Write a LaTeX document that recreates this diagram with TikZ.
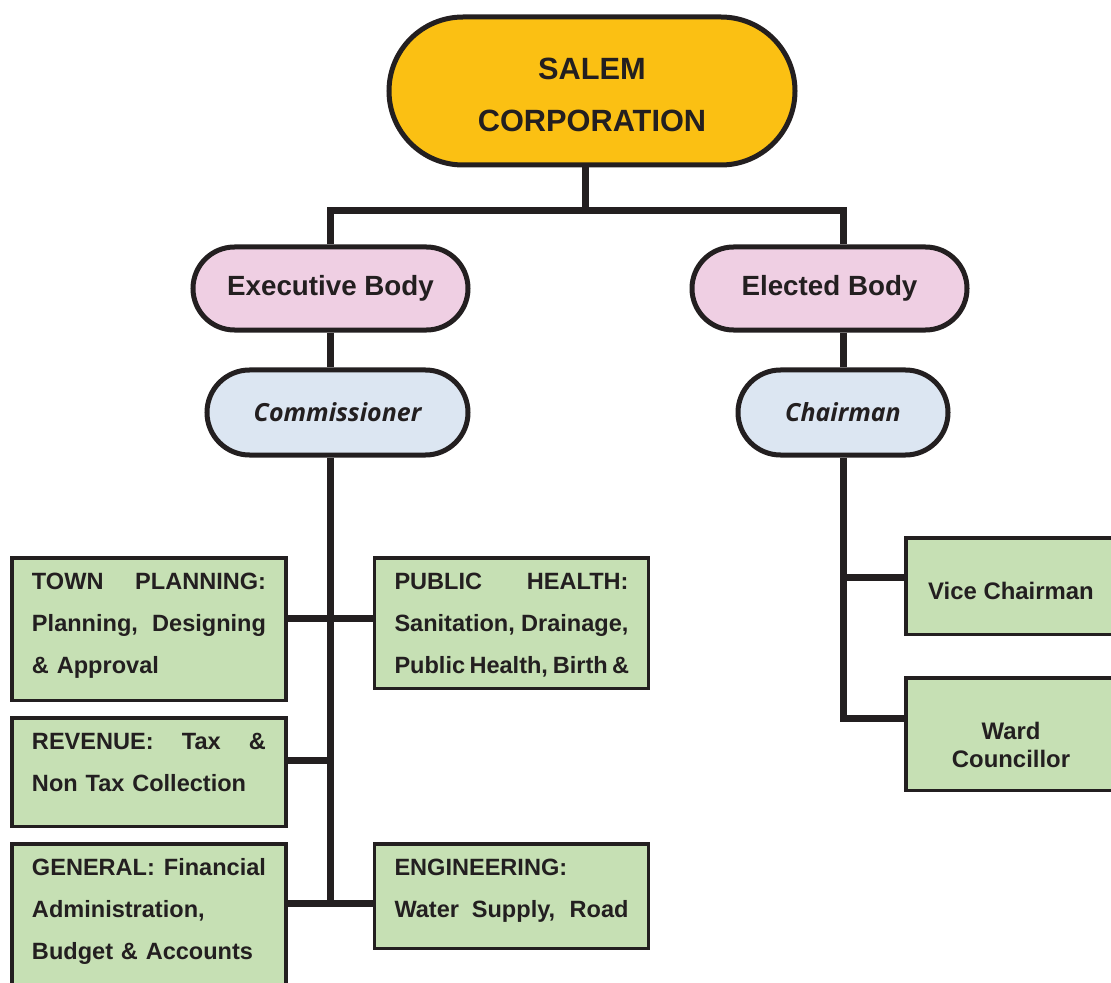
\documentclass[tikz,border=0pt]{standalone}
\usepackage{fontspec}
\setmainfont{Liberation Sans}
\newfontfamily\opensans{Open Sans}
\usetikzlibrary{calc,positioning,shapes.misc}
\definecolor{ink}{HTML}{231F20}
\definecolor{corpfill}{HTML}{FBC013}
\definecolor{bodyfill}{HTML}{EFCFE3}
\definecolor{headfill}{HTML}{DCE6F2}
\definecolor{deptfill}{HTML}{C6E0B4}
\newlength\deptw
\setlength\deptw{46.8mm}
% one fully spread line of a department box
\newcommand\jline[1]{{\spaceskip=0pt\xspaceskip=0pt\makebox[\deptw][s]{#1}}}
\tikzset{
  link/.style={draw=ink,line width=1.4mm},
  pill/.style={rounded rectangle,draw=ink,line width=1mm,align=center,text=ink,inner sep=0pt},
  corpcard/.style={pill,fill=corpfill,minimum width=81.2mm,minimum height=29.6mm,font=\fontsize{17.5}{29.5}\selectfont\bfseries},
  bodycard/.style={pill,fill=bodyfill,minimum width=55mm,minimum height=16.6mm,font=\fontsize{15.8}{18}\selectfont\bfseries},
  headcard/.style={pill,fill=headfill,minimum height=17mm,font=\opensans\fontsize{14.2}{16}\selectfont\bfseries\itshape},
  deptcard/.style={draw=ink,fill=deptfill,line width=0.7mm,text=ink,align=left,text width=\deptw,inner xsep=4mm,inner ysep=3mm,
    anchor=north,text height=3.25mm,font=\fontsize{13.4}{23.9}\selectfont\bfseries},
  wardcard/.style={draw=ink,fill=deptfill,line width=0.7mm,text=ink,align=center,minimum width=42mm,inner sep=0pt,font=\fontsize{13.6}{16}\selectfont\bfseries}
}
\begin{document}
\begin{tikzpicture}[x=0.2mm,y=-0.2mm]
  \useasboundingbox (0,0) rectangle (1111,983);
  \clip (0,0) rectangle (1111,983);
  % top of the chart
  \node[corpcard] (corp) at (592,91) {\rule{0pt}{5.7mm}SALEM\\CORPORATION};
  \node[bodycard] (exec) at (330.5,288.5) {Executive Body};
  \node[bodycard] (elect) at (829.5,288.5) {Elected Body};
  \node[headcard,minimum width=52.2mm] (comm) at (337.5,412.5) {Commissioner};
  \node[headcard,minimum width=42mm] (chair) at (843,412.5) {Chairman};
  % departments under the commissioner
  \node[deptcard,text depth=19.25mm] (town) at (149,556)
    {\jline{TOWN PLANNING:}\\\jline{Planning, Designing}\\\& Approval};
  \node[deptcard,text depth=16.85mm] (health) at (511.5,556)
    {\jline{PUBLIC HEALTH:}\\\jline{Sanitation, Drainage,}\\\jline{Public Health, Birth \&}};
  \node[deptcard,text depth=12.45mm] (rev) at (149,716)
    {\jline{REVENUE: Tax \&}\\Non Tax Collection};
  \node[deptcard,text depth=22mm] (gen) at (149,842)
    {\jline{GENERAL: Financial}\\Administration,\\Budget \& Accounts};
  \node[deptcard,text depth=11.65mm] (eng) at (511.5,842)
    {ENGINEERING:\\\jline{Water Supply, Road}};
  % under the chairman
  \node[wardcard,minimum height=19.3mm] (vice) at (1011,586) {\rule{0pt}{5.35mm}Vice Chairman};
  \node[wardcard,minimum height=22.5mm] (ward) at (1011,734) {\rule{0pt}{7.75mm}Ward\\Councillor};
  % connectors
  \coordinate (bar) at ($(corp.south)+(-7,43)$);
  \draw[link] (corp.south -| bar) -- (bar);
  \draw[link] (exec.north) |- (bar) -| (elect.north -| chair.north);
  \draw[link] (exec.south) -- (comm.north -| exec.south);
  \draw[link] (elect.south -| chair.north) -- (chair.north);
  \coordinate (tp) at ($(town.east)+(0,-11)$);
  \coordinate (rv) at ($(rev.east)+(0,-12)$);
  \coordinate (en) at ($(eng.west)+(0,7)$);
  \draw[link] (comm.south -| exec.south) -- (en -| exec.south);
  \draw[link] (tp) -- (tp -| health.west);
  \draw[link] (rv) -- (rv -| exec.south);
  \draw[link] (en) -- (en -| gen.east);
  \coordinate (vc) at ($(vice.west)+(0,-9)$);
  \coordinate (wd) at ($(ward.west)+(0,-16)$);
  \draw[link] (chair.south) |- (wd);
  \draw[link] (vc) -- (vc -| chair.south);
\end{tikzpicture}
\end{document}
